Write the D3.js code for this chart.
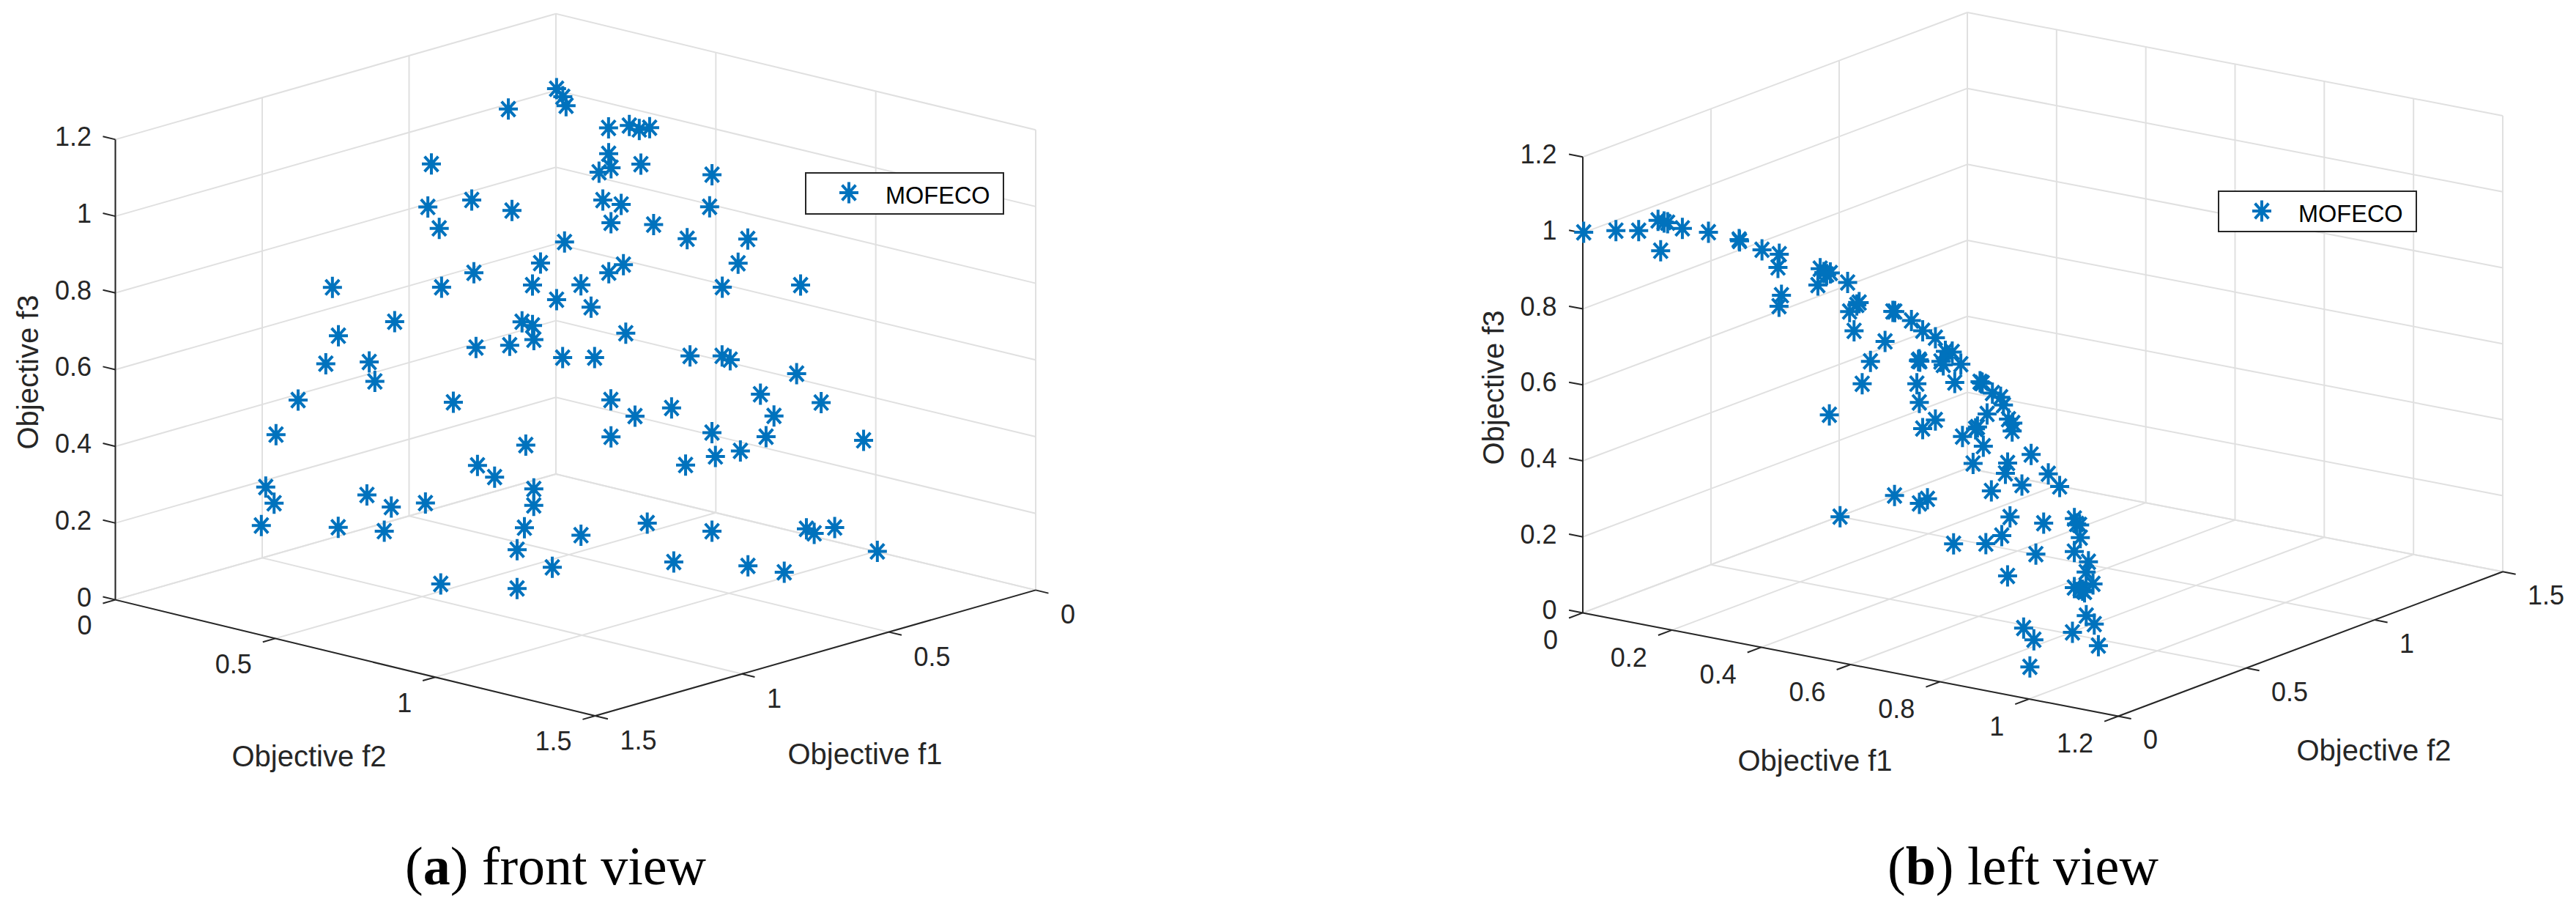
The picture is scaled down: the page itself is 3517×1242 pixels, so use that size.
<!DOCTYPE html>
<html>
<head>
<meta charset="utf-8">
<script src="https://cdn.jsdelivr.net/npm/d3@7"></script>
<style>
  html, body { margin: 0; padding: 0; background: #fff; }
  text { font-family: "Liberation Sans", Arial, sans-serif; }
</style>
</head>
<body>
<div id="chart"></div>
<script>
// values, one list per objective
const frontF1 = [.162,0,.03,.07,.424,.546,.487,.46,.577,.761,.679,.619,.512,.56,.769,.831,.863,.836,.856,.918,
  .625,.61,.625,.712,.667,.799,.54,.08,.03,.02,0,.17,.2,.23,.13,0,.29,.27,.08,.32,
  .25,.2,.06,.44,.38,.42,.13,.48,.5,.21,0,.47,.6,.55,.37,.3,.28,.13,.25,.09,
  .56,.53,.46,.23,.39,.27,.59,.732,0,.34,.4,.47,.745,.755,.777,.69,.57,.44,.21,.19,
  .13,0,.792,.742,.52,.36,.28,.802,.953,.817,.799,.988,.99,1.003,.943,.921,.894,.971,.934,.892];
const frontF2 = [0,.002,.049,.096,0,.101,.184,.285,.165,0,.266,.312,.422,.441,.202,.083,.073,.184,.22,.037,
  .468,.487,.505,.404,.468,.413,.498,.238,.257,.279,.293,.321,.356,.346,.385,.488,.413,.452,.554,.466,
  .535,.594,.655,.431,.56,.551,.689,.519,.569,.713,.765,.65,.572,.626,.759,.795,.802,.872,.869,.912,
  .686,.734,.784,.893,.846,.905,.714,.578,.962,.889,.866,.837,.615,.624,.615,.712,.809,.892,.976,.982,
  .991,1.005,.606,.67,.846,.931,.971,.615,0,.505,.542,0,.028,0,.275,.331,.413,.211,.321,.459];
const frontF3 = [.987,1.005,1,.995,.901,.836,.858,.845,.8,.653,.689,.723,.747,.704,.606,.559,.491,.512,.473,.401,
  .628,.619,.589,.567,.576,.445,.673,.968,.967,.959,.962,.937,.914,.907,.914,.879,.861,.853,.826,.819,
  .813,.777,.758,.788,.742,.728,.717,.703,.659,.677,.647,.601,.55,.55,.542,.534,.521,.466,.438,.39,
  .454,.415,.431,.382,.364,.339,.37,.352,.282,.314,.308,.295,.248,.209,.154,.135,.16,.127,.1,.085,
  .089,.001,.098,.054,.055,.027,.001,.001,.311,.303,.276,.182,.146,.085,.207,.182,.203,.116,.12,.001];

const leftF1 = [.002,.034,.062,.002,.012,.004,.068,.163,.092,.132,.156,.212,.222,.311,.405,.434,.262,.311,.279,.299,
  .389,.312,.447,.459,.483,.539,.442,.435,.432,.486,.48,.574,.616,.101,.554,.512,.613,.624,.583,.667,
  .629,.62,.616,.674,.714,.75,.756,.617,.631,.603,.625,.609,.644,.728,.707,.711,.744,.764,.771,.782,
  .8,.823,.82,.775,.838,.001,.864,.852,.779,.747,.9,.895,.78,.785,.786,.822,.889,.916,.369,.935,
  .952,.823,.881,.839,.935,.919,.912,.925,.933,.905,.971,.988,.988,.897,1.002,.131,.193,.214,.002,.28];
const leftF2 = [0,.07,.11,.29,.31,.31,.27,.02,.33,.38,.34,.33,.38,.22,.07,.01,.47,.41,.48,.42,
  .24,.49,.3,.27,.2,.12,.44,.46,.53,.48,.54,.18,.05,.914,.45,.55,.33,.32,.46,.29,
  .22,.23,.24,.13,.07,.07,.01,.48,.46,.5,.51,.57,.52,.31,.43,.44,.38,.21,.19,.12,
  .17,.09,.23,.4,.19,.96,.09,.23,.46,.56,.1,.24,.56,.56,.57,.51,.37,.04,.93,.14,
  0,.54,.43,.53,.29,.35,.37,.33,.34,.42,.22,0,.04,.45,0,.988,.977,.972,1,.959];
const leftF3 = [1.002,.996,.992,.96,.951,.951,.959,.985,.939,.916,.928,.92,.898,.924,.91,.903,.846,.857,.836,.857,
  .89,.816,.842,.846,.852,.834,.782,.775,.733,.731,.696,.799,.789,.394,.7,.663,.717,.713,.67,.684,
  .749,.746,.745,.723,.698,.66,.654,.624,.631,.618,.591,.561,.561,.61,.561,.549,.551,.609,.611,.611,
  .577,.557,.522,.491,.509,.278,.494,.471,.426,.36,.431,.378,.283,.27,.265,.255,.269,.401,.03,.331,
  .313,.184,.198,.132,.205,.179,.168,.19,.118,.069,.113,.184,.143,.003,.085,.088,.084,.102,0,.002];

const frontF1Ticks = [0, 0.5, 1, 1.5];
const frontF2Ticks = [0, 0.5, 1, 1.5];
const leftF1Ticks  = [0, 0.2, 0.4, 0.6, 0.8, 1, 1.2];
const leftF2Ticks  = [0, 0.5, 1, 1.5];
const f3Ticks      = [0, 0.2, 0.4, 0.6, 0.8, 1, 1.2];

const seriesName = 'MOFECO';
const blue = '#0072BD';
const dark = '#262626';
const gridColor = '#e0e0e0';

const svg = d3.select('#chart').append('svg')
  .attr('width', 3517)
  .attr('height', 1242)
  .style('display', 'block');

// the 8 spoke '*' marker of matlab
const asterisk = {
  draw(ctx) {
    const r = 13, v = 14.5, k = r * 0.72;
    ctx.moveTo(-r, 0); ctx.lineTo(r, 0);
    ctx.moveTo(0, -v); ctx.lineTo(0, v);
    ctx.moveTo(-k, -k * 1.1); ctx.lineTo(k, k * 1.1);
    ctx.moveTo(-k, k * 1.1); ctx.lineTo(k, -k * 1.1);
  }
};
const markerPath = d3.symbol().type(asterisk)();

function drawPanel(cfg) {
  const g = svg.append('g');

  // each objective adds a screen offset, so the box is an oblique projection
  const x1 = d3.scaleLinear().domain([0, cfg.f1Max]).range([0, cfg.f1Vec[0]]);
  const y1 = d3.scaleLinear().domain([0, cfg.f1Max]).range([0, cfg.f1Vec[1]]);
  const x2 = d3.scaleLinear().domain([0, cfg.f2Max]).range([0, cfg.f2Vec[0]]);
  const y2 = d3.scaleLinear().domain([0, cfg.f2Max]).range([0, cfg.f2Vec[1]]);
  const y3 = d3.scaleLinear().domain([0, 1.2]).range([0, cfg.f3Span]);
  const px = (a, b) => cfg.origin[0] + x1(a) + x2(b);
  const py = (a, b, c) => cfg.origin[1] + y1(a) + y2(b) + y3(c);

  function seg(layer, p, q, color, width) {
    layer.append('line')
      .attr('x1', px(p[0], p[1])).attr('y1', py(p[0], p[1], p[2]))
      .attr('x2', px(q[0], q[1])).attr('y2', py(q[0], q[1], q[2]))
      .attr('stroke', color)
      .attr('stroke-width', width);
  }

  const grid = g.append('g');
  const zMax = 1.2;
  // floor
  cfg.f1Ticks.forEach(t => seg(grid, [t, 0, 0], [t, cfg.f2Max, 0], gridColor, 2));
  cfg.f2Ticks.forEach(t => seg(grid, [0, t, 0], [cfg.f1Max, t, 0], gridColor, 2));
  // wall at fixed f1
  cfg.f2Ticks.forEach(t => seg(grid, [cfg.wallF1, t, 0], [cfg.wallF1, t, zMax], gridColor, 2));
  f3Ticks.forEach(t => seg(grid, [cfg.wallF1, 0, t], [cfg.wallF1, cfg.f2Max, t], gridColor, 2));
  // wall at fixed f2
  cfg.f1Ticks.forEach(t => seg(grid, [t, cfg.wallF2, 0], [t, cfg.wallF2, zMax], gridColor, 2));
  f3Ticks.forEach(t => seg(grid, [0, cfg.wallF2, t], [cfg.f1Max, cfg.wallF2, t], gridColor, 2));

  // axis lines and ticks
  const axes = g.append('g');
  seg(axes, [cfg.zAt[0], cfg.zAt[1], 0], [cfg.zAt[0], cfg.zAt[1], zMax], dark, 2);
  seg(axes, [0, cfg.f1AxisAt, 0], [cfg.f1Max, cfg.f1AxisAt, 0], dark, 2);
  seg(axes, [cfg.f2AxisAt, 0, 0], [cfg.f2AxisAt, cfg.f2Max, 0], dark, 2);
  f3Ticks.forEach(t => seg(axes, [cfg.zAt[0], cfg.zAt[1], t],
    [cfg.zAt[0] + cfg.zTick[0], cfg.zAt[1] + cfg.zTick[1], t], dark, 2));
  cfg.f1Ticks.forEach(t => seg(axes, [t, cfg.f1AxisAt, 0], [t, cfg.f1AxisAt + cfg.f1Tick, 0], dark, 2));
  cfg.f2Ticks.forEach(t => seg(axes, [cfg.f2AxisAt, t, 0], [cfg.f2AxisAt + cfg.f2Tick, t, 0], dark, 2));

  // tick labels
  const label = (x, y, s, anchor, size) => g.append('text')
    .attr('x', x).attr('y', y).attr('dy', '0.36em')
    .attr('text-anchor', anchor)
    .attr('font-size', size)
    .attr('fill', dark)
    .text(s);

  f3Ticks.forEach(t => label(px(cfg.zAt[0], cfg.zAt[1]) + cfg.zLabelDx, py(cfg.zAt[0], cfg.zAt[1], t) - 4, String(t), 'end', 36));
  cfg.f1Ticks.forEach(t => label(px(t, cfg.f1AxisAt) + cfg.f1LabelOff[0], py(t, cfg.f1AxisAt, 0) + cfg.f1LabelOff[1], String(t), cfg.f1Anchor, 36));
  cfg.f2Ticks.forEach(t => label(px(cfg.f2AxisAt, t) + cfg.f2LabelOff[0], py(cfg.f2AxisAt, t, 0) + cfg.f2LabelOff[1], String(t), cfg.f2Anchor, 36));

  // axis titles
  label(cfg.f1Title[0], cfg.f1Title[1], 'Objective f1', 'middle', 40);
  label(cfg.f2Title[0], cfg.f2Title[1], 'Objective f2', 'middle', 40);
  g.append('text')
    .attr('transform', `translate(${cfg.f3Title[0]},${cfg.f3Title[1]}) rotate(-90)`)
    .attr('dy', '0.36em')
    .attr('text-anchor', 'middle')
    .attr('font-size', 40)
    .attr('fill', dark)
    .text('Objective f3');

  // the points
  g.append('g').selectAll('path')
    .data(d3.range(cfg.f1.length))
    .join('path')
    .attr('d', markerPath)
    .attr('transform', i => `translate(${px(cfg.f1[i], cfg.f2[i])},${py(cfg.f1[i], cfg.f2[i], cfg.f3[i])})`)
    .attr('fill', 'none')
    .attr('stroke', blue)
    .attr('stroke-width', 4);

  // legend
  const lg = cfg.legend;
  g.append('rect')
    .attr('x', lg.x).attr('y', lg.y).attr('width', lg.w).attr('height', lg.h)
    .attr('fill', '#fff').attr('stroke', dark).attr('stroke-width', 2);
  g.append('path')
    .attr('d', markerPath)
    .attr('transform', `translate(${lg.x + 59},${lg.y + 27})`)
    .attr('fill', 'none').attr('stroke', blue).attr('stroke-width', 4);
  g.append('text')
    .attr('x', lg.x + 109).attr('y', lg.y + 30).attr('dy', '0.36em')
    .attr('font-size', 32.5).attr('fill', '#000')
    .text(seriesName);

  // caption
  const cap = g.append('text')
    .attr('x', cfg.caption.x).attr('y', 1207)
    .attr('font-size', 74)
    .attr('fill', '#000')
    .style('font-family', '"Liberation Serif", serif');
  cap.append('tspan').text('(');
  cap.append('tspan').attr('font-weight', 'bold').text(cfg.caption.tag);
  cap.append('tspan').text(') ' + cfg.caption.text);
}

drawPanel({
  f1: frontF1, f2: frontF2, f3: frontF3,
  f1Ticks: frontF1Ticks, f2Ticks: frontF2Ticks,
  f1Max: 1.5, f2Max: 1.5,
  origin: [759, 647],
  f1Vec: [-601.5, 171.6], f2Vec: [655, 158.4], f3Span: -628.2,
  wallF1: 0, wallF2: 0,
  zAt: [1.5, 0], zTick: [0, -0.039],
  f1AxisAt: 1.5, f1Tick: 0.04,
  f2AxisAt: 1.5, f2Tick: 0.0425,
  zLabelDx: -32.5,
  f1LabelOff: [34, 33], f1Anchor: 'start',
  f2LabelOff: [-32, 34.5], f2Anchor: 'end',
  f1Title: [1181, 1029], f2Title: [422, 1032], f3Title: [38, 508],
  legend: { x: 1100, y: 236, w: 270, h: 56 },
  caption: { x: 553, tag: 'a', text: 'front view' }
});

drawPanel({
  f1: leftF1, f2: leftF2, f3: leftF3,
  f1Ticks: leftF1Ticks, f2Ticks: leftF2Ticks,
  f1Max: 1.2, f2Max: 1.5,
  origin: [2161, 836.4],
  f1Vec: [731, 141.1], f2Vec: [525, -197.25], f3Span: -622.2,
  wallF1: 0, wallF2: 1.5,
  zAt: [0, 0], zTick: [-0.031, 0],
  f1AxisAt: 0, f1Tick: -0.054,
  f2AxisAt: 1.2, f2Tick: 0.029,
  zLabelDx: -35.5,
  f1LabelOff: [-34, 37], f1Anchor: 'end',
  f2LabelOff: [34, 32], f2Anchor: 'start',
  f1Title: [2478, 1038], f2Title: [3241, 1024], f3Title: [2039, 529],
  legend: { x: 3029, y: 261, w: 270, h: 55 },
  caption: { x: 2577, tag: 'b', text: 'left view' }
});
</script>
</body>
</html>
